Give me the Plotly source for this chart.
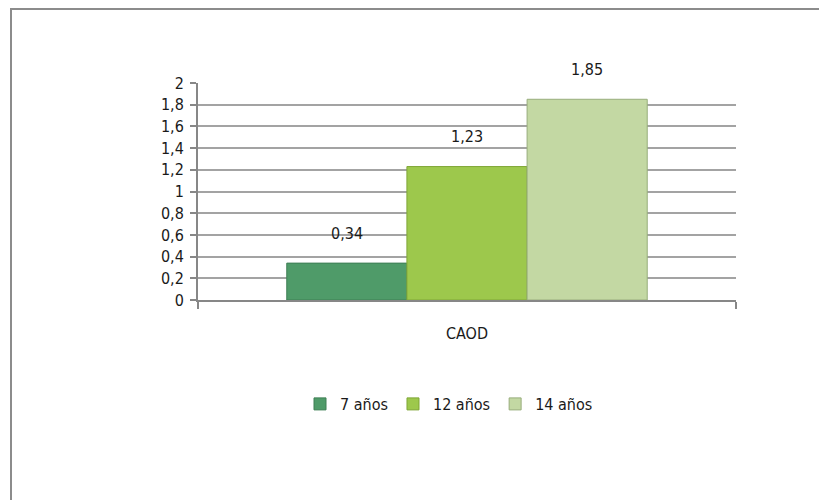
import plotly.graph_objects as go

# Data
categories = ["CAOD"]
series_names = ["7 años", "12 años", "14 años"]
series_values = [[0.34], [1.23], [1.85]]
bar_colors = ["#4f9b69", "#9dc84c", "#c3d8a3"]
edge_colors = ["#3f7f55", "#7fa636", "#98ad7c"]
y_ticks = [0, 0.2, 0.4, 0.6, 0.8, 1, 1.2, 1.4, 1.6, 1.8, 2]

FONT = "Liberation Sans Narrow, Arial Narrow, DejaVu Sans Condensed, Liberation Sans, Arial, sans-serif"
BARGAP = 0.33

fig = go.Figure()
for name, vals, col, edge in zip(series_names, series_values, bar_colors, edge_colors):
    fig.add_trace(go.Bar(
        x=categories, y=vals, name=name,
        marker=dict(color=col, line=dict(color=edge, width=1)),
    ))

# value labels above each bar, centred over its slot in the group
n = len(series_names)
slot = (1 - BARGAP) / n
for i, vals in enumerate(series_values):
    for j, v in enumerate(vals):
        xc = j - (1 - BARGAP) / 2 + slot * (i + 0.5)
        fig.add_annotation(
            x=xc, y=v, xref="x", yref="y",
            text=f"{v:.2f}".replace(".", ","),
            showarrow=False, yanchor="middle", yshift=30,
            font=dict(family=FONT, size=16, color="#1a1a1a"),
        )

# outer chart-area frame
L, R, T, B = 198, 83, 83, 200
W, H = 819 - L - R, 500 - T - B
fig.add_shape(
    type="rect", xref="paper", yref="paper",
    x0=(11 - L) / W, x1=(830 - L) / W,
    y0=-(510 - (500 - B)) / H, y1=((500 - B) - 9) / H,
    line=dict(color="#8c8c8c", width=2), fillcolor="rgba(0,0,0,0)", layer="below",
)

fig.update_layout(
    width=819, height=500,
    margin=dict(l=L, r=R, t=T, b=B),
    paper_bgcolor="white", plot_bgcolor="white",
    barmode="group", bargap=BARGAP, bargroupgap=0,
    separators=",.",
    font=dict(family=FONT, size=16, color="#1a1a1a"),
    showlegend=True,
    legend=dict(
        orientation="h", x=(449 - L) / W, xanchor="center",
        y=-(404 - (500 - B)) / H, yanchor="middle",
        font=dict(family=FONT, size=16, color="#1a1a1a"),
        itemwidth=30, traceorder="normal",
    ),
    xaxis=dict(
        type="category", showgrid=False,
        showline=True, linecolor="#878787", linewidth=2,
        ticks="outside", tickson="boundaries", ticklen=7, tickcolor="#878787", tickwidth=2,
        ticklabelstandoff=18,
        tickfont=dict(family=FONT, size=16, color="#1a1a1a"),
    ),
    yaxis=dict(
        range=[0, 2], tickvals=y_ticks,
        showgrid=True, gridcolor="#a3a3a3", gridwidth=1.5,
        showline=True, linecolor="#878787", linewidth=2,
        ticks="outside", ticklen=6, tickcolor="#878787", tickwidth=2,
        ticklabelstandoff=3,
        tickfont=dict(family=FONT, size=16, color="#1a1a1a"),
        zeroline=False,
    ),
)

fig.write_html("out.html")
